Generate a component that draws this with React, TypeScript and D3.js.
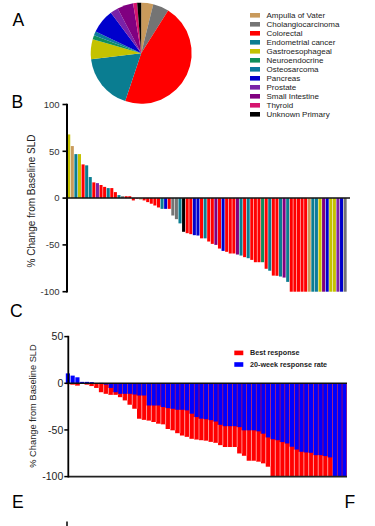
import React from "react";
import * as d3 from "d3";

const FONT = "'Liberation Sans', Arial, Helvetica, sans-serif";

// Tumour types (legend order) and their colours
const categories = [
  "Ampulla of Vater",
  "Cholangiocarcinoma",
  "Colorectal",
  "Endometrial cancer",
  "Gastroesophageal",
  "Neuroendocrine",
  "Osteosarcoma",
  "Pancreas",
  "Prostate",
  "Small Intestine",
  "Thyroid",
  "Unknown Primary",
];
const categoryCodes = ["A", "Ch", "C", "E", "G", "N", "O", "Pa", "P", "SI", "T", "U"];
const categoryColors = [
  "#c99a5b",
  "#747474",
  "#ff0000",
  "#0a7d91",
  "#c4c200",
  "#0f8f5a",
  "#0a7a9c",
  "#0000cc",
  "#7a22a8",
  "#800080",
  "#d6146e",
  "#000000",
];

// Panel B: best % change from baseline SLD per patient (waterfall)
const bValues = [
  68, 55.6, 47, 47, 36, 35, 22.5, 16.8, 16, 14, 12, 10.7, 10.7, 6.4, 3.2, 2, 2, 2,
  -2.5, -0.8, -1.5, -2.5, -4.3, -6, -7.9, -10, -11.5, -11.5, -11.5, -18.6, -22.5, -27,
  -36, -37.5, -38.5, -39.6, -40, -43, -43, -46.4, -48.9, -50, -53.9, -56.4, -57.4,
  -59.2, -59.2, -60.3, -61.4, -63.1, -64.2, -66, -68.5, -68.5, -68.5, -75.5, -77.6,
  -82.8, -83, -83.8, -84.9, -89.5,
  -100, -100, -100, -100, -100, -100, -100, -100, -100, -100, -100, -100, -100, -100, -100, -100,
];
const bTumour = [
  "G", "A", "E", "G", "C", "E", "E", "C", "P", "C", "C", "E", "C", "C", "E", "Ch", "C", "C",
  "C", "T", "A", "C", "C", "C", "C", "C", "E", "Pa", "C", "Ch", "Ch", "E",
  "U", "C", "C", "Pa", "Pa", "C", "E", "C", "C", "SI", "C", "Pa", "C",
  "C", "C", "SI", "E", "C", "E", "C", "C", "C", "N", "C", "E",
  "C", "C", "E", "SI", "E",
  "C", "C", "C", "C", "C", "A", "E", "O", "G", "SI", "Pa", "G", "G", "P", "Pa", "Ch",
];
const bTicks = [100, 50, 0, -50, -100];

// Panel C: best response vs 20-week response
const cBest = [
  -1, -1.5, -2.5, -0.5, -1.5, -3, -5, -9.6, -11.3, -12.4, -12.4, -14.9, -18.4, -23, -27.3,
  -38, -39.2, -40, -41.5, -43.3, -44, -49, -50.4, -53.5, -56, -57.4, -59.5, -60.3, -61,
  -61.5, -62.8, -63.8, -66.3, -68.3, -68.3, -68.3, -75.2, -77.7, -83, -83, -84, -85.8, -89.4,
  -100, -100, -100, -100, -100, -100, -100, -100, -100, -100, -100, -100, -100, -100, -100, -100,
];
const cWeek20 = [
  10.6, 8.2, 6.4, 1.5, 1.5, 1.2, 0, 0.4, -1.5, -5, -9.6, -11.3, -11.3, -11.3, -12, -13.1,
  -13.1, -23.8, -23.8, -23.8, -25.5, -26.6, -27.3, -28.4, -28.4, -29, -32.6, -36.2, -37.9,
  -38.5, -39.5, -41, -44.5, -46, -46, -46, -47, -50.4, -50.4, -50.4, -51.5, -54, -58, -60,
  -61, -63, -64.5, -68, -71, -73.4, -74.1, -74.5, -77, -77, -78, -79.4, -100, -100, -100,
];
const cTicks = [50, 0, -50, -100];
const cSeries = ["Best response", "20-week response rate"];
const cColors = ["#ff0000", "#0000ff"];

const codeColor = (code: string) => categoryColors[categoryCodes.indexOf(code)];

function PiePanel() {
  const counts = categoryCodes.map((c) => bTumour.filter((t) => t === c).length);
  const pie = d3.pie<number>().sort(null).startAngle(0).endAngle(Math.PI * 2)(counts);
  const arc = d3.arc<d3.PieArcDatum<number>>().innerRadius(0).outerRadius(50.5);
  return (
    <g>
      <g transform="translate(141.2,53.2)">
        {pie.map((p, i) => (
          <path key={i} d={arc(p) || ""} fill={categoryColors[i]} />
        ))}
      </g>
      {categories.map((c, i) => {
        const cy = 15.3 + i * 9;
        return (
          <g key={c}>
            <rect x={250} y={cy - 2.3} width={10} height={4.6} fill={categoryColors[i]} />
            <text x={266.5} y={cy} dy="0.35em" fontSize={8} fill="#222" fontFamily={FONT}>
              {c}
            </text>
          </g>
        );
      })}
    </g>
  );
}

function WaterfallB() {
  const x = d3.scaleBand<number>().domain(d3.range(bValues.length)).range([67.2, 347.2]);
  const y = d3.scaleLinear().domain([-100, 100]).range([291.7, 104.5]);
  const bw = x.bandwidth();
  return (
    <g>
      {bValues.map((v, i) => (
        <rect
          key={i}
          x={x(i)!}
          y={Math.min(y(v), y(0))}
          width={bw - 0.55}
          height={Math.abs(y(v) - y(0))}
          fill={codeColor(bTumour[i])}
        />
      ))}
      <line x1={67} x2={350} y1={y(0)} y2={y(0)} stroke="#111" strokeWidth={1.5} />
      <line x1={67} x2={67} y1={y(100) - 0.8} y2={y(-100) + 0.8} stroke="#000" strokeWidth={2} />
      {bTicks.map((t) => (
        <g key={t}>
          <line x1={62.5} x2={67} y1={y(t)} y2={y(t)} stroke="#000" strokeWidth={1.6} />
          <text
            x={59.5}
            y={y(t)}
            dy="0.35em"
            textAnchor="end"
            fontSize={9.5}
            fill="#333"
            fontFamily={FONT}
          >
            {t}
          </text>
        </g>
      ))}
      <text
        transform={`translate(31.5,201) rotate(-90)`}
        textAnchor="middle"
        dy="0.35em"
        fontSize={10}
        fill="#222"
        fontFamily={FONT}
      >
        % Change from Baseline SLD
      </text>
    </g>
  );
}

function PanelC() {
  const x = d3.scaleBand<number>().domain(d3.range(cBest.length)).range([65.5, 346.8]);
  const y = d3.scaleLinear().domain([-100, 50]).range([476.6, 336.6]);
  const bw = x.bandwidth();
  const y0 = y(0);
  const seps = cBest.map((v, k) => {
    if (k === 0) return null;
    const yTop = y(Math.min(cWeek20[k - 1], cWeek20[k], 0));
    const yBot = y(Math.max(cBest[k - 1], cBest[k]));
    if (yBot - yTop < 1) return null;
    return (
      <line
        key={"s" + k}
        x1={x(k)!}
        x2={x(k)!}
        y1={yTop}
        y2={yBot}
        stroke="#ffb8b8"
        strokeWidth={0.7}
      />
    );
  });
  return (
    <g>
      {cBest.map((v, k) => (
        <rect
          key={"r" + k}
          x={x(k)!}
          y={Math.min(y(v), y0)}
          width={bw}
          height={Math.abs(y(v) - y0)}
          fill={cColors[0]}
        />
      ))}
      {seps}
      {cWeek20.map((v, k) => (
        <rect
          key={"b" + k}
          x={x(k)! + 0.3}
          y={Math.min(y(v), y0)}
          width={bw - 0.6}
          height={Math.abs(y(v) - y0)}
          fill={cColors[1]}
        />
      ))}
      <line x1={68.3} x2={347} y1={y0} y2={y0} stroke="#111" strokeWidth={1.5} />
      <line x1={68.3} x2={347} y1={y(-100)} y2={y(-100)} stroke="#222" strokeWidth={1.8} />
      <line x1={68.3} x2={68.3} y1={y(50) - 0.8} y2={y(-100) + 0.9} stroke="#000" strokeWidth={1.8} />
      {cTicks.map((t) => (
        <g key={t}>
          <line x1={64.3} x2={68.3} y1={y(t)} y2={y(t)} stroke="#000" strokeWidth={1.5} />
          <text
            x={63.3}
            y={y(t)}
            dy="0.35em"
            textAnchor="end"
            fontSize={10.5}
            fill="#222"
            fontFamily={FONT}
          >
            {t}
          </text>
        </g>
      ))}
      <text
        transform={`translate(33,406) rotate(-90)`}
        textAnchor="middle"
        dy="0.35em"
        fontSize={9.3}
        fill="#222"
        fontFamily={FONT}
      >
        % Change from Baseline SLD
      </text>
      {cSeries.map((s, i) => (
        <g key={s}>
          <rect x={234.3} y={350.6 + i * 11.6} width={9} height={4.6} fill={cColors[i]} />
          <text
            x={250}
            y={352.9 + i * 11.6}
            dy="0.35em"
            fontSize={7.2}
            fontWeight="bold"
            fill="#222"
            fontFamily={FONT}
          >
            {s}
          </text>
        </g>
      ))}
    </g>
  );
}

export default function App() {
  const letter = (t: string, xx: number, yy: number) => (
    <text x={xx} y={yy} fontSize={17.5} fill="#000" fontFamily={FONT}>
      {t}
    </text>
  );
  return (
    <svg
      width={375}
      height={526}
      viewBox="0 0 375 526"
      style={{ position: "absolute", left: 0, top: 0, background: "#fff" }}
    >
      <rect width={375} height={526} fill="#fff" />
      <PiePanel />
      <WaterfallB />
      <PanelC />
      {letter("A", 12.5, 25.9)}
      {letter("B", 11.5, 107.5)}
      {letter("C", 10, 316.9)}
      {letter("E", 12, 508.2)}
      {letter("F", 344.5, 508.2)}
      <line x1={67} x2={67} y1={521.5} y2={526} stroke="#000" strokeWidth={1.5} />
    </svg>
  );
}
